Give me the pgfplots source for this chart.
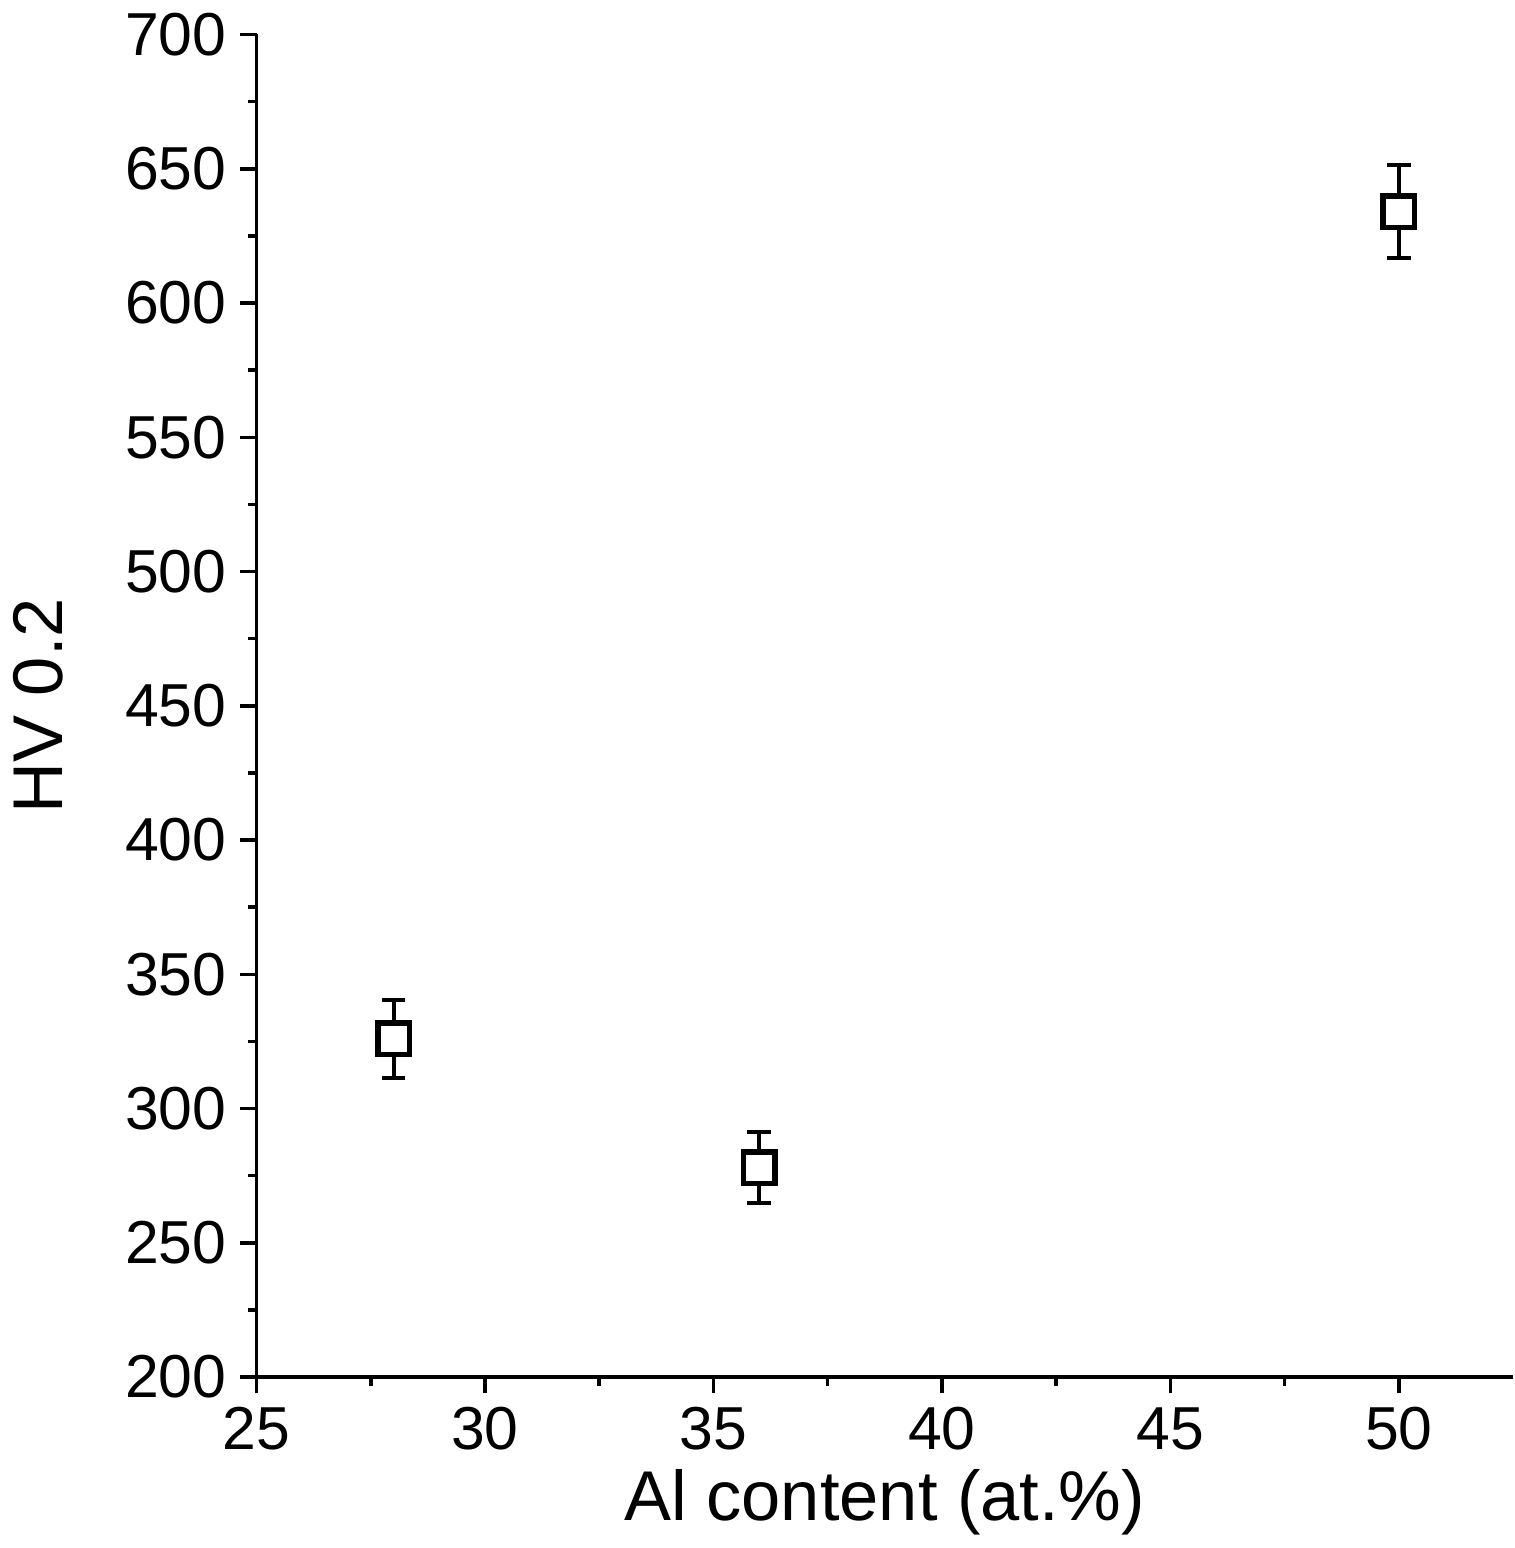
\documentclass[border=0pt]{standalone}
\usepackage{fontspec}
\setmainfont{Liberation Sans}
\usepackage{pgfplots}
\pgfplotsset{compat=1.18}

\begin{document}
\begin{tikzpicture}
\begin{axis}[
    scale only axis,
    width=321pt, height=343pt,
    xmin=25, xmax=52.5, ymin=200, ymax=700,
    xtick={25,30,...,50}, ytick={200,250,...,700},
    minor x tick num=1, minor y tick num=1,
    axis x line*=bottom, axis y line*=left,
    axis line style={line width=0.9pt},
    every tick/.style={line width=0.9pt, black},
    tick align=outside,
    major tick length=4.2pt, minor tick length=2.2pt,
    tick label style={font=\fontsize{15.5}{17}\selectfont},
    /pgf/number format/assume math mode=true,
    label style={font=\fontsize{18}{21}\selectfont},
    xlabel={Al content (at.\%)},
    ylabel={HV 0.2},
    xlabel style={yshift=2pt},
    ylabel style={yshift=9pt},
  ]
  \addplot+[only marks, black, mark=square*, mark size=4pt,
    mark options={line width=1.4pt, fill=white},
    error bars/.cd, y dir=both, y explicit,
    error bar style={line width=1pt},
    error mark options={rotate=90, mark size=3pt, line width=1pt}]
    coordinates {
      (28,326) +- (0,14.5)
      (36,278) +- (0,13.3)
      (50,634) +- (0,17.3)
    };
  \addplot+[only marks, black, mark=square*, mark size=4pt,
    mark options={line width=1.4pt, fill=white}]
    coordinates {(28,326) (36,278) (50,634)};
\end{axis}
\end{tikzpicture}
\end{document}
